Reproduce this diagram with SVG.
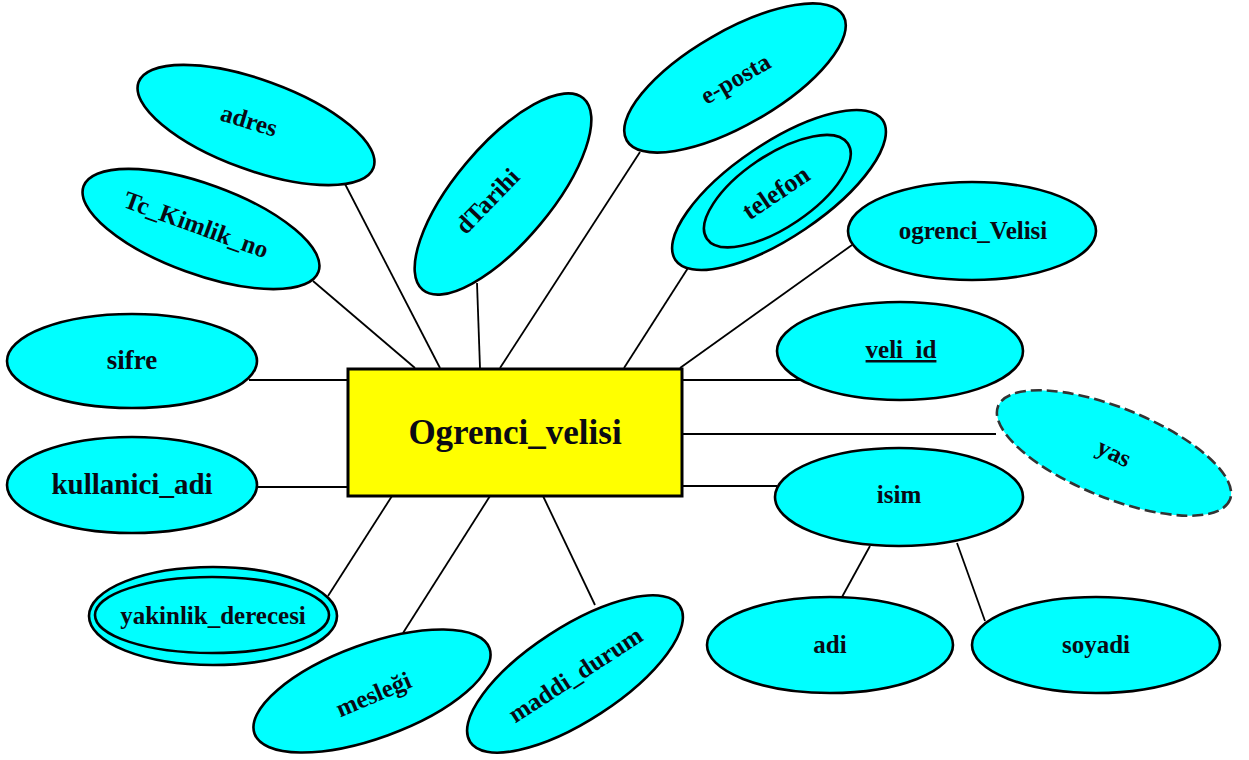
<svg xmlns="http://www.w3.org/2000/svg" width="1249" height="760" viewBox="0 0 1249 760">
<style>
.attr{fill:#00ffff;stroke:#000;stroke-width:2.6}
.dash{fill:#00ffff;stroke:#333;stroke-width:2.6;stroke-dasharray:11 5}
.ent{fill:#ffff00;stroke:#000;stroke-width:3}
.lbl{font-family:"Liberation Serif","Times New Roman",serif;font-weight:bold;font-size:25px;fill:#0a0a14;text-anchor:middle}
.conn line{stroke:#000;stroke-width:1.8}
</style>
<rect width="1249" height="760" fill="#fff"/>
<g id="connectors" class="conn">
<line x1="345" y1="184" x2="440" y2="368"/>
<line x1="313" y1="281" x2="415" y2="368"/>
<line x1="477" y1="283" x2="480" y2="368"/>
<line x1="640" y1="152" x2="500" y2="368"/>
<line x1="688" y1="268" x2="624" y2="368"/>
<line x1="852" y1="245" x2="680" y2="368"/>
<line x1="682" y1="380" x2="801" y2="380"/>
<line x1="682" y1="434" x2="996" y2="434"/>
<line x1="682" y1="486" x2="777" y2="486"/>
<line x1="249" y1="380" x2="348" y2="380"/>
<line x1="257" y1="487" x2="348" y2="487"/>
<line x1="328" y1="596" x2="392" y2="496"/>
<line x1="403" y1="633" x2="490" y2="496"/>
<line x1="595" y1="605" x2="543" y2="496"/>
<line x1="870" y1="546" x2="842" y2="597"/>
<line x1="957" y1="543" x2="985" y2="621"/>
</g>
<g id="ogrenci_velisi_entity">
<rect class="ent" x="348" y="369" width="334" height="127"/>
<text class="lbl" x="515" y="444" style="font-size:35px">Ogrenci_velisi</text>
</g>
<g id="adres" transform="translate(256,125) rotate(20)">
<ellipse class="attr" cx="0" cy="0" rx="125" ry="45"/>
<text class="lbl" x="-8" y="6" transform="rotate(-3)">adres</text>
</g>
<g id="tc_kimlik_no" transform="translate(201,229) rotate(20)">
<ellipse class="attr" cx="0" cy="0" rx="125" ry="45"/>
<text class="lbl" x="-6" y="6">Tc_Kimlik_no</text>
</g>
<g id="dtarihi" transform="translate(503,194) rotate(-50)">
<ellipse class="attr" cx="0" cy="0" rx="125" ry="48"/>
<text class="lbl" x="-16" y="2" transform="rotate(4)">dTarihi</text>
</g>
<g id="e_posta" transform="translate(735,78) rotate(-30)">
<ellipse class="attr" cx="0" cy="0" rx="125" ry="47"/>
<text class="lbl" x="0" y="9">e-posta</text>
</g>
<g id="telefon" transform="translate(779,190) rotate(-34)">
<ellipse class="attr" cx="0" cy="0" rx="125" ry="47"/>
<ellipse class="attr" cx="-2" cy="0" rx="85" ry="36"/>
<text class="lbl" x="-4" y="9" style="font-size:26px">telefon</text>
</g>
<g id="ogrenci_Velisi">
<ellipse class="attr" cx="972" cy="231" rx="124" ry="49"/>
<text class="lbl" x="973" y="239">ogrenci_Velisi</text>
</g>
<g id="veli_id">
<ellipse class="attr" cx="900" cy="351" rx="123" ry="49"/>
<text class="lbl" x="901" y="358" text-decoration="underline">veli_id</text>
</g>
<g id="yas" transform="translate(1114,453) rotate(22)">
<ellipse class="dash" cx="0" cy="0" rx="125" ry="45"/>
<text class="lbl" x="0" y="8" transform="rotate(4)">yas</text>
</g>
<g id="isim">
<ellipse class="attr" cx="899" cy="497" rx="124" ry="49"/>
<text class="lbl" x="899" y="503">isim</text>
</g>
<g id="adi">
<ellipse class="attr" cx="830" cy="645" rx="123" ry="48"/>
<text class="lbl" x="830" y="653">adi</text>
</g>
<g id="soyadi">
<ellipse class="attr" cx="1096" cy="645" rx="124" ry="48"/>
<text class="lbl" x="1096" y="653">soyadi</text>
</g>
<g id="sifre">
<ellipse class="attr" cx="132" cy="361" rx="125" ry="47"/>
<text class="lbl" x="132" y="369" style="font-size:27px">sifre</text>
</g>
<g id="kullanici_adi">
<ellipse class="attr" cx="132" cy="485" rx="125" ry="48"/>
<text class="lbl" x="132" y="494" style="font-size:29px">kullanici_adi</text>
</g>
<g id="yakinlik_derecesi">
<ellipse class="attr" cx="213" cy="616" rx="124" ry="49"/>
<ellipse class="attr" cx="212" cy="615" rx="117" ry="38"/>
<text class="lbl" x="213" y="624">yakinlik_derecesi</text>
</g>
<g id="meslegi" transform="translate(372,691) rotate(-20)">
<ellipse class="attr" cx="0" cy="0" rx="125" ry="47"/>
<text class="lbl" x="0" y="12" transform="rotate(-3)">mesleği</text>
</g>
<g id="maddi_durum" transform="translate(575,674) rotate(-33)">
<ellipse class="attr" cx="0" cy="0" rx="125" ry="47"/>
<text class="lbl" x="0" y="9">maddi_durum</text>
</g>
</svg>
